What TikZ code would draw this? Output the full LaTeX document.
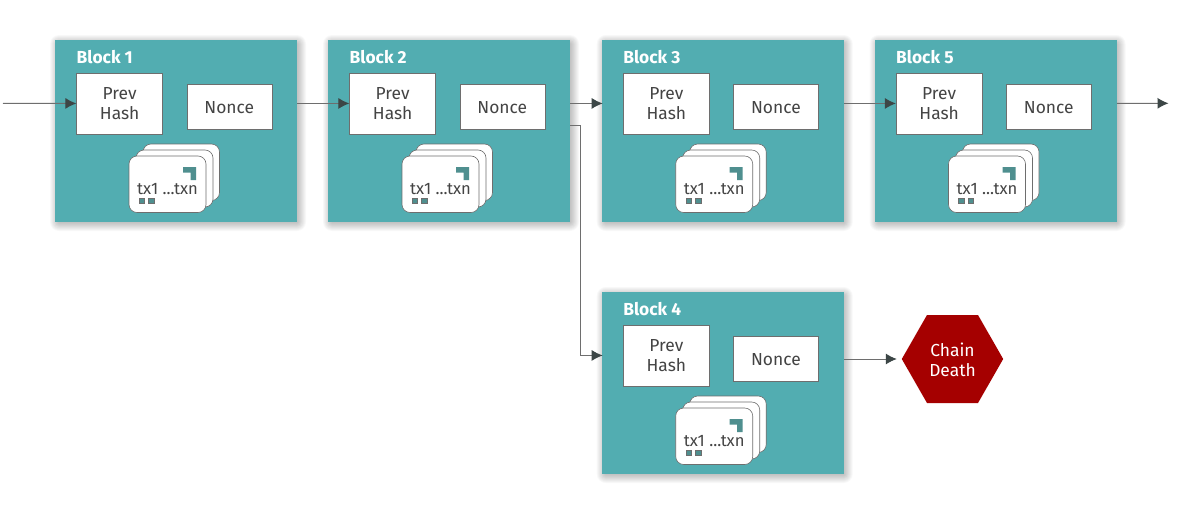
\documentclass[tikz,border=0pt]{standalone}
\usepackage{fontspec}
\setmainfont{Fira Sans}
\usetikzlibrary{arrows.meta}
\definecolor{teal1}{HTML}{52ADB1}
\definecolor{teal2}{HTML}{4F8F8F}
\definecolor{txt}{HTML}{444444}
\definecolor{lin}{HTML}{6E6E6E}
\definecolor{tipc}{HTML}{3C4646}
\definecolor{deathc}{HTML}{A50000}
\newcommand\downby[2]{\vbox{\vskip#1\hbox{#2}}}
\tikzset{
  x=1pt,y=-1pt,
  blockbox/.style={fill=teal1,minimum width=242pt,minimum height=182pt,inner sep=0pt,anchor=north west},
  whitebox/.style={fill=white,draw=lin,line width=.5pt,inner sep=0pt,text=txt,font=\fontsize{17.4}{20}\selectfont,anchor=north west},
  blocktitle/.style={text=white,inner sep=0pt,anchor=base west,font=\fontsize{17.4}{18}\selectfont\bfseries},
  card/.style={fill=white,draw=lin,line width=.6pt,rounded corners=8pt},
  cardtext/.style={text=txt,inner sep=0pt,font=\fontsize{16.6}{16}\selectfont},
  mini/.style={fill=teal2,draw=lin,line width=.4pt},
  link/.style={draw=lin,line width=1pt,-{Latex[length=11pt,width=11pt,color=tipc]}},
}
\newcommand\softshadow[4]{%
  \foreach \i in {1,...,9}{
    \fill[black,opacity=.028,rounded corners=\i pt] (#1+4-\i,#2+4-\i) rectangle (#3+\i,#4+\i);
  }}
\newcommand\chainblock[4]{% id, x, y, title
  \softshadow{#2}{#3}{#2+242}{#3+182}
  \node[blockbox] (#1) at (#2,#3) {};
  \node[blocktitle] (#1t) at (#2+21.5,#3+23.2) {#4};
  \node[whitebox,minimum width=86pt,minimum height=61pt] (#1p) at (#2+21.4,#3+32.7) {\downby{5pt}{\begin{tabular}{@{}c@{}}Prev\\Hash\end{tabular}}};
  \node[whitebox,minimum width=85pt,minimum height=45pt] (#1n) at (#2+131.5,#3+43.9) {\downby{2pt}{Nonce}};
  \draw[card] (#2+88,#3+104) rectangle (#2+164.5,#3+160.5);
  \draw[card] (#2+81,#3+110) rectangle (#2+158,#3+167);
  \draw[card] (#2+74,#3+116) rectangle (#2+151,#3+172.5);
  \fill[teal2] (#2+128,#3+127) -- (#2+141,#3+127) -- (#2+141,#3+140) -- (#2+135.5,#3+140) -- (#2+135.5,#3+132.5) -- (#2+128,#3+132.5) -- cycle;
  \node[cardtext] (#1c) at (#2+112.5,#3+149.5) {tx1 ...txn};
  \draw[mini] (#2+84,#3+158.5) rectangle (#2+89.5,#3+163.5);
  \draw[mini] (#2+93.5,#3+158.5) rectangle (#2+99,#3+163.5);
}
\begin{document}
\begin{tikzpicture}
\useasboundingbox (0,0) rectangle (1178,514);
\fill[white] (0,0) rectangle (1178,514);
\chainblock{b1}{55}{40}{Block 1}
\chainblock{b2}{328}{40}{Block 2}
\chainblock{b3}{601.7}{40}{Block 3}
\chainblock{b5}{874.5}{40}{Block 5}
\chainblock{b4}{601.7}{292}{Block 4}
\node[minimum width=101pt,minimum height=88pt,inner sep=0pt] (death) at (952.5,359) {};
\fill[deathc] (death.west) -- (927,315) -- (978,315) -- (death.east) -- (978,403) -- (927,403) -- cycle;
\node[text=white,align=center,inner sep=0pt,font=\fontsize{17.4}{19.5}\selectfont] (deathl) at (952.5,360) {Chain\\Death};
\coordinate (in) at (3,103.3);
\coordinate (out) at (1168.5,103.3);
\coordinate (bend) at (580,125);
\draw[link] (in) -- (b1p.west);
\draw[link] (b1.east |- b2p.west) -- (b2p.west);
\draw[link,shorten >=-1pt] (b2.east |- b2p.west) -- (b3.west |- b2p.west);
\draw[link] (b3.east |- b5p.west) -- (b5p.west);
\draw[link] (b5.east |- b5p.west) -- (out);
\draw[link,shorten >=-1pt] (b2.east |- bend) -- (bend) -- (bend |- b4p.west) -- (b4.west |- b4p.west);
\draw[link,shorten >=5pt] (b4.east |- death.west) -- (death.west);
\end{tikzpicture}
\end{document}
